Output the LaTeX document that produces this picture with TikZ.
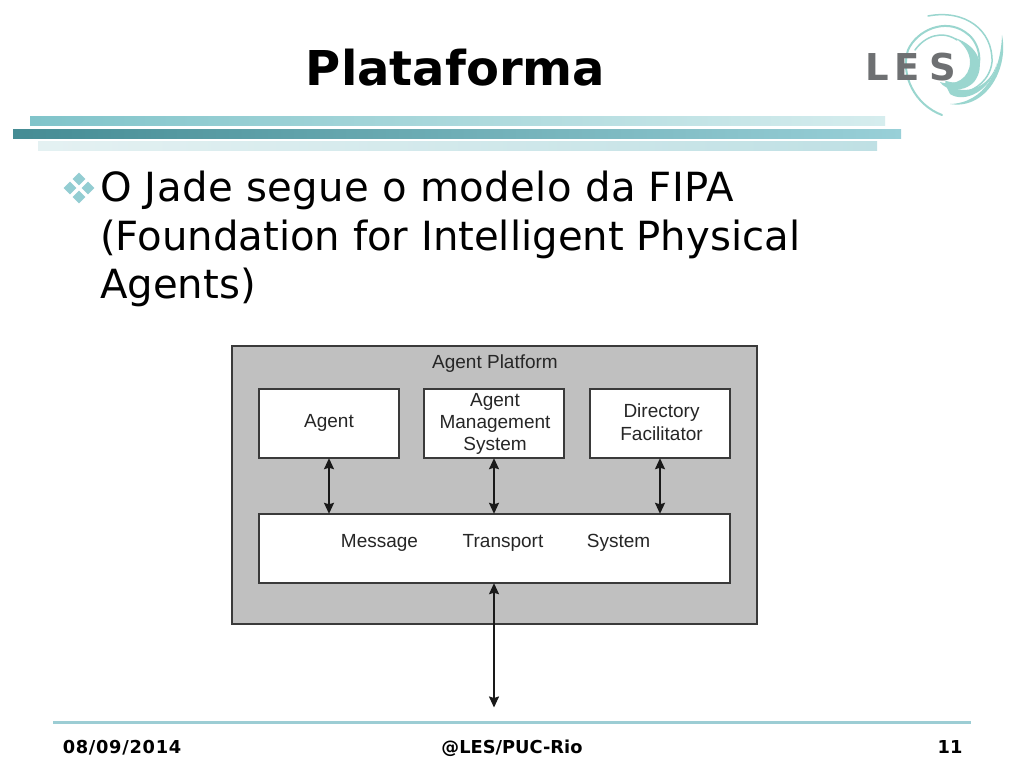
\documentclass[tikz,border=0pt]{standalone}
\usepackage{fontspec}
\setmainfont{DejaVu Sans}
\newfontfamily\arialf{Liberation Sans}
\usetikzlibrary{arrows.meta,shapes.geometric}
\definecolor{barA}{HTML}{80C4CA}
\definecolor{barAe}{HTML}{D6EDEE}
\definecolor{barB}{HTML}{458C94}
\definecolor{barBe}{HTML}{99D0D8}
\definecolor{barC}{HTML}{E4F1F2}
\definecolor{barCe}{HTML}{BFE0E4}
\definecolor{swirl}{HTML}{9AD6CF}
\definecolor{lesgray}{HTML}{6E7072}
\definecolor{platgray}{HTML}{C0C0C0}
\definecolor{linegray}{HTML}{3A3A3A}
\definecolor{rulec}{HTML}{9CCDD4}
\tikzset{
  boxn/.style={draw=linegray,line width=1.4pt,fill=white,minimum height=69pt,align=center,inner sep=0pt,font=\arialf\fontsize{19}{22.5}\selectfont,text=black!85},
  lbl/.style={inner sep=0pt,font=\arialf\fontsize{19}{23}\selectfont,text=black!85},
  link/.style={draw=black!90,line width=1.5pt,{Stealth[length=11pt,width=10pt,inset=1.5pt]}-{Stealth[length=11pt,width=10pt,inset=1.5pt]},shorten >=-0.5pt,shorten <=-0.5pt},
  bodyt/.style={anchor=base west,inner sep=0pt,font=\fontsize{40.2}{48}\selectfont},
  foot/.style={anchor=base,inner sep=0pt,font=\bfseries\fontsize{17.8}{20}\selectfont},
  bul/.style={diamond,fill=barA!85!white,minimum size=13pt,inner sep=0pt},
  swl/.style={draw=swirl,line cap=round},
  lesl/.style={anchor=base west,inner sep=0pt,text=lesgray,font=\bfseries\fontsize{37}{40}\selectfont}
}
\begin{document}
\begin{tikzpicture}[x=1pt,y=-1pt]
\useasboundingbox (0,0) rectangle (1024,768);
\fill[white] (0,0) rectangle (1024,768);
% bars
\shade[left color=barA,right color=barAe] (30,116) rectangle (885,125);
\shade[left color=barB,right color=barBe] (13,129) rectangle (901,138);
\shade[left color=barC,right color=barCe] (38,141) rectangle (877,150);
% title
\node[anchor=base,inner sep=0pt,font=\bfseries\fontsize{48}{56}\selectfont] (title) at (455.5,85) {Plataforma};
% logo
\draw[swl,line width=1.5pt] (928,16) .. controls (965,9) and (993,30) .. (992,62) .. controls (990,80) and (975,90) .. (965,92);
\fill[swirl] (1002,35) .. controls (1009,70) and (985,110) .. (950,104) .. controls (985,103) and (1001,70) .. (1002,35) -- cycle;
\draw[swl,line width=2pt] (942,115) .. controls (915,105) and (900,75) .. (908,50) .. controls (917,30) and (945,18) .. (965,32) .. controls (978,40) and (984,60) .. (975,74) .. controls (970,82) and (958,86) .. (946,82);
\draw[swl,line width=1.5pt] (915,50) .. controls (925,36) and (942,30) .. (957,40);
\fill[swirl] (955,38) .. controls (977,45) and (987,65) .. (974,82) .. controls (962,94) and (945,90) .. (940,82) .. controls (955,87) and (970,78) .. (970,62) .. controls (970,52) and (963,43) .. (955,38) -- cycle;
\fill[swirl] (945,84) .. controls (965,97) and (990,88) .. (997,63) .. controls (992,90) and (965,104) .. (950,94) -- cycle;
\node[lesl] (logoL) at (865,80) {L};
\node[lesl] (logoE) at (894,80) {E};
\node[lesl] (logoS) at (929,80) {S};
% bullet
\node[bul] (b1) at (79,179) {};
\node[bul] (b2) at (79,197) {};
\node[bul] (b3) at (70,188) {};
\node[bul] (b4) at (88,188) {};
% body
\node[bodyt] (l1) at (100,201) {\addfontfeature{LetterSpace=1}O Jade segue o modelo da FIPA};
\node[bodyt] (l2) at (100,250) {(Foundation for Intelligent Physical};
\node[bodyt] (l3) at (100,298) {Agents)};
% diagram
\node[draw=linegray,line width=1.4pt,fill=platgray,minimum width=525pt,minimum height=278pt,inner sep=0pt] (plat) at (494.5,485) {};
\node[lbl] (pt) at (495,363.5) {Agent Platform};
\node[boxn,minimum width=140pt] (agent) at (329,423.5) {};
\node[lbl] (agentt) at (329,423) {Agent};
\node[boxn,minimum width=140pt] (ams) at (494,423.5) {};
\node[lbl,align=center,font=\arialf\fontsize{19}{22}\selectfont] (amst) at (495,423.5) {Agent\\Management\\System};
\node[boxn,minimum width=140pt] (df) at (660,423.5) {};
\node[lbl,align=center] (dft) at (661.5,422.5) {Directory\\Facilitator};
\node[boxn,minimum width=471pt] (mts) at (494.5,548.5) {};
\node[lbl] (m1) at (379.5,542.5) {Message};
\node[lbl] (m2) at (503,542.5) {Transport};
\node[lbl] (m3) at (618.5,542.5) {System};
\coordinate (ext) at (494,707);
\draw[link] (agent.south) -- (agent.south |- mts.north);
\draw[link] (ams.south) -- (ams.south |- mts.north);
\draw[link] (df.south) -- (df.south |- mts.north);
\draw[link] (ext |- mts.south) -- (ext);
% footer
\draw[draw=rulec,line width=3.5pt] (53,722.5) -- (971,722.5);
\node[foot] (f1) at (122,753) {\addfontfeature{LetterSpace=4}08/09/2014};
\node[foot] (f2) at (512,753) {@LES/PUC-Rio};
\node[foot] (f3) at (950,753) {11};
\end{tikzpicture}
\end{document}
